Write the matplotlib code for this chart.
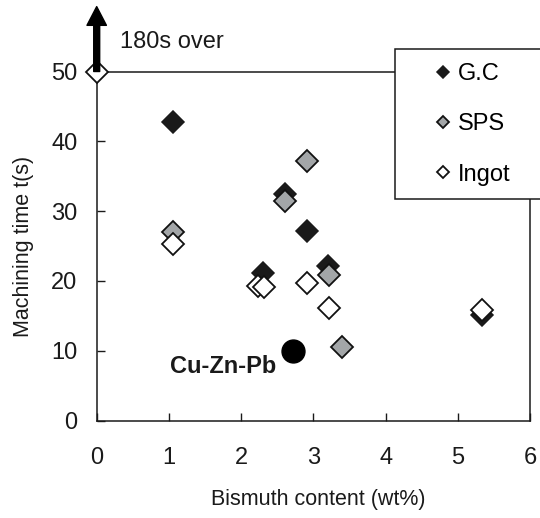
import numpy as np
import matplotlib
matplotlib.use('Agg')
import matplotlib.pyplot as plt
from matplotlib.patches import Rectangle

plt.rcParams['font.family'] = ['Liberation Sans', 'DejaVu Sans']

# data
gc_bi = [1.06, 2.61, 2.91, 2.30, 3.20, 5.33]
gc_time = [42.7, 32.5, 27.1, 21.2, 22.2, 15.1]
sps_bi = [1.05, 2.61, 2.91, 3.22, 3.39]
sps_time = [27.0, 31.5, 37.2, 20.8, 10.6]
ingot_bi = [0.0, 1.06, 2.23, 2.32, 2.91, 3.22, 5.33]
ingot_time = [50.0, 25.3, 19.3, 19.1, 19.7, 16.1, 15.8]
ref_bi = [2.72]
ref_time = [10.0]
xticks = [0, 1, 2, 3, 4, 5, 6]
yticks = [0, 10, 20, 30, 40, 50]

W, H = 540, 518
fig = plt.figure(figsize=(W / 100, H / 100), dpi=100)
ax = fig.add_axes([96.7 / W, 1 - 420.5 / H, 433.3 / W, 349 / H])

fs = 17
ink = '#1a1a1a'
ms = 11.5
ax.plot(gc_bi, gc_time, 'D', ms=ms, mfc=ink, mec=ink, mew=1.1,
        label='G.C', clip_on=False, zorder=3)
ax.plot(sps_bi, sps_time, 'D', ms=ms, mfc='#a3a6a8', mec='#111111', mew=1.3,
        label='SPS', clip_on=False, zorder=4)
ax.plot(ingot_bi, ingot_time, 'D', ms=ms, mfc='white', mec='#111111', mew=1.3,
        label='Ingot', clip_on=False, zorder=5)
ax.plot(ref_bi, ref_time, 'o', ms=16.5, color='black', zorder=5)
ax.text(2.49, 7.7, 'Cu-Zn-Pb', fontsize=fs, fontweight='bold', color=ink,
        ha='right', va='center')

# arrow for the off-scale value
ax.annotate('', xy=(0, 59.3), xytext=(0, 50), annotation_clip=False,
            arrowprops=dict(facecolor='black', edgecolor='black', width=4.3,
                            headwidth=14, headlength=13.5, shrink=0),
            zorder=6)
ax.text(0.32, 54.2, '180s over', fontsize=fs, color=ink,
        ha='left', va='center', clip_on=False)

ax.set_xlim(0, 6)
ax.set_ylim(0, 50)
ax.set_xticks(xticks)
ax.set_yticks(yticks)
ax.tick_params(direction='in', length=6, width=1, labelsize=fs, colors=ink)
ax.tick_params(axis='x', pad=19)
ax.tick_params(axis='y', pad=14)
for s in ax.spines.values():
    s.set_linewidth(1.1)
    s.set_color(ink)

ax.set_xlabel('Bismuth content (wt%)', fontsize=15.5, color=ink)
ax.set_ylabel('Machining time t(s)', fontsize=15.5, color=ink)
ax.xaxis.set_label_coords(0.511, -0.195)
ax.yaxis.set_label_coords(-0.145, 0.5)

# legend box runs off the right edge of the figure
fig.add_artist(Rectangle((395 / W, 1 - 199 / H), 0.3, 150 / H,
                         transform=fig.transFigure, facecolor='white',
                         edgecolor=ink, linewidth=1.1, zorder=2))
handles, labels = ax.get_legend_handles_labels()
fig.legend(handles, labels, loc='upper left',
           bbox_to_anchor=(431 / W, 1 - 63 / H), fontsize=fs,
           markerscale=0.55, frameon=False, borderpad=0, borderaxespad=0,
           handlelength=1.0, handletextpad=0.14, labelspacing=1.2)

fig.savefig('out.png', dpi=100)
